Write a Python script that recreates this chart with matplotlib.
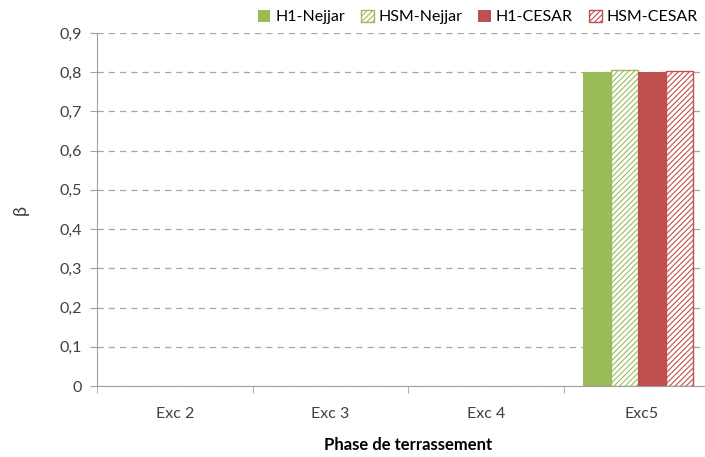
import matplotlib
matplotlib.use("Agg")
import matplotlib.pyplot as plt
from matplotlib.patches import Patch
import numpy as np

phases=["Exc 2","Exc 3","Exc 4","Exc5"]
series=["H1-Nejjar","HSM-Nejjar","H1-CESAR","HSM-CESAR"]
h1_nejjar=[0,0,0,0.800]
hsm_nejjar=[0,0,0,0.805]
h1_cesar=[0,0,0,0.800]
hsm_cesar=[0,0,0,0.802]
yticks=[0,0.1,0.2,0.3,0.4,0.5,0.6,0.7,0.8,0.9]

plt.rcParams["font.family"]=["Lato","DejaVu Sans"]
plt.rcParams["hatch.linewidth"]=0.8
green="#9BBB59";red="#C0504D"
styles=[(green,False),(green,True),(red,False),(red,True)]

fig=plt.figure(figsize=(7.05,4.57),dpi=100)
ax=fig.add_axes([97/705,(457-386)/457,622/705,353/457])
x=np.arange(len(phases));w=0.177;handles=[]
for i,(name,vals,(c,h)) in enumerate(zip(series,[h1_nejjar,hsm_nejjar,h1_cesar,hsm_cesar],styles)):
    pos=x+(i-1.5)*w-0.02
    if h:
        ax.bar(pos,vals,w,facecolor="white",edgecolor=c,hatch="//////",linewidth=[1 if v else 0 for v in vals])
        handles.append(Patch(facecolor="white",edgecolor=c,hatch="//////",linewidth=1,label=name))
    else:
        ax.bar(pos,vals,w,color=c,linewidth=0)
        handles.append(Patch(facecolor=c,linewidth=0,label=name))
ax.set_xlim(-0.5,3.5);ax.set_ylim(0,0.9)
ax.set_yticks(yticks,[f"{t:.1f}".replace(".",",") if t else "0" for t in yticks])
ax.set_xticks(x,phases)
ax.set_xticks(np.arange(-0.5,4,1),minor=True)
ax.tick_params(axis="x",which="major",length=0,pad=15,labelsize=11.5,colors="#404040")
ax.tick_params(axis="x",which="minor",length=5,color="#A0A0A0")
ax.tick_params(axis="y",length=5,color="#A0A0A0",labelsize=11.5,labelcolor="#404040",pad=6)
ax.yaxis.grid(True,linestyle=(0,(5,4)),color="#A6A6A6",linewidth=0.9);ax.set_axisbelow(True)
for s in ["top","right"]:ax.spines[s].set_visible(False)
for s in ["left","bottom"]:ax.spines[s].set_color("#A0A0A0")
ax.set_xlabel("Phase de terrassement",fontsize=12,fontweight="bold",labelpad=12)
ax.set_ylabel("β",fontsize=13,labelpad=22,color="#404040")
ax.legend(handles=handles,loc="upper left",bbox_to_anchor=(248/705,1.0),bbox_transform=fig.transFigure,ncol=4,frameon=False,fontsize=11.5,handlelength=0.8,handleheight=0.8,handletextpad=0.3,columnspacing=1.0,borderaxespad=0.2)
fig.savefig("out.png",dpi=100)
